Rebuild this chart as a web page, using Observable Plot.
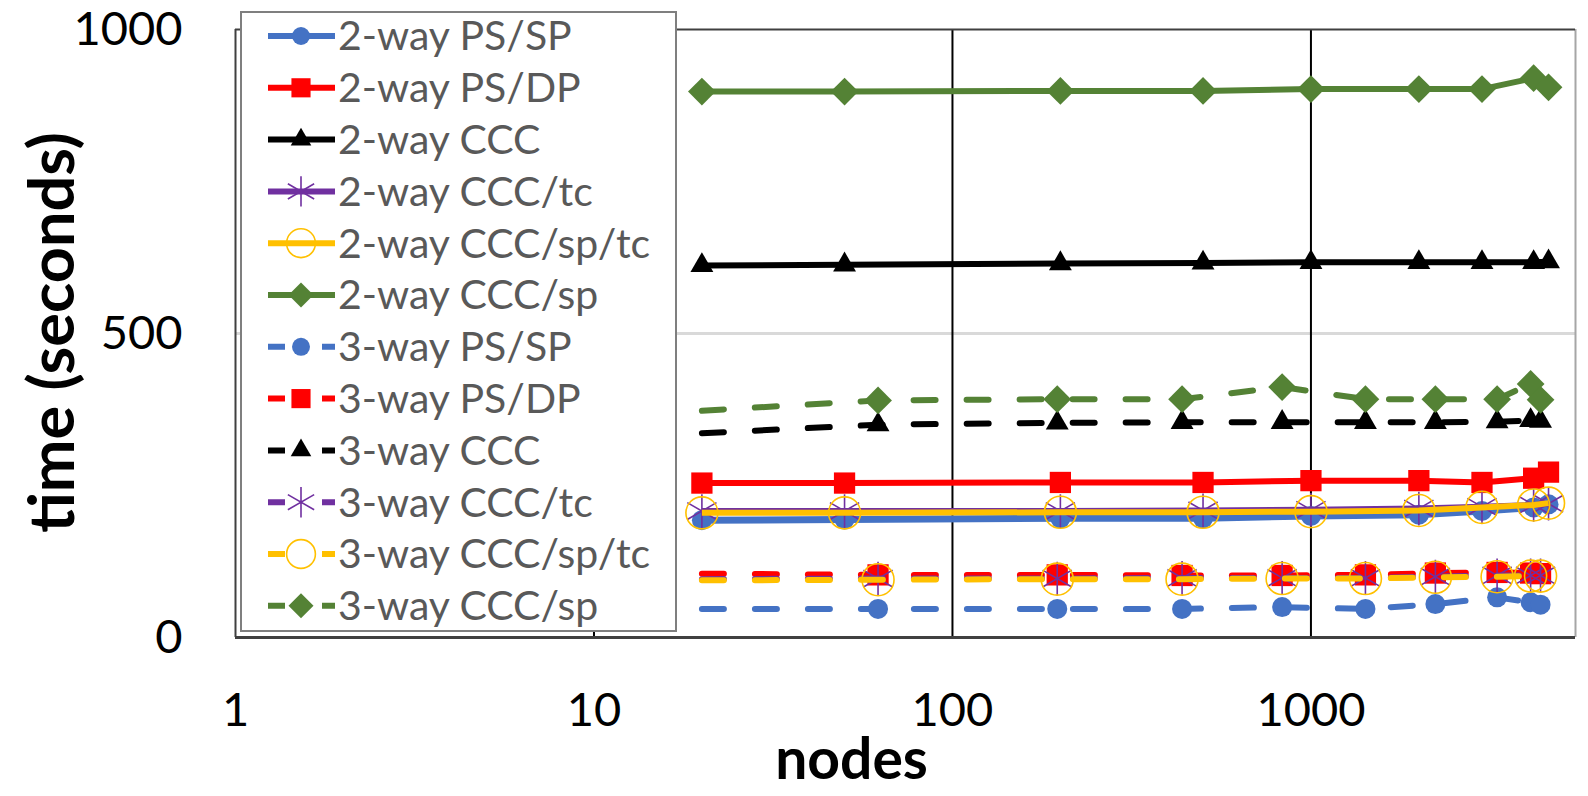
<!DOCTYPE html>
<html><head><meta charset="utf-8">
<script src="https://cdn.jsdelivr.net/npm/d3@7"></script>
<script src="https://cdn.jsdelivr.net/npm/@observablehq/plot@0.6"></script>
<style>
html,body{margin:0;padding:0;background:#fff;}
#wrap{position:relative;width:1588px;height:796px;font-family:Lato,"Open Sans",sans-serif;}
#legend{position:absolute;left:240px;top:11px;}
</style></head><body><div id="wrap"></div>
<script>
// ---- data ----
const kinds = ["PS/SP", "PS/DP", "CCC", "CCC/tc", "CCC/sp/tc", "CCC/sp"];
const colors = ["#4472C4", "#FF0000", "#000000", "#7030A0", "#FFC000", "#548235"];
const xTicks = [1, 10, 100, 1000];
const yTicks = [0, 500, 1000];
const xMax = 5470;

const nodes2 = [20, 50, 200, 500, 1000, 2000, 3000, 4180, 4600];
const twoPSSP   = [193, 194, 196, 196, 200, 202, 208, 214, 219];
const twoPSDP   = [254, 254, 255, 255, 258, 258, 255, 262, 272];
const twoCCC    = [612, 613, 615, 616, 617, 617, 617, 617, 618];
const twoCCCtc  = [208, 208, 208, 209, 210, 212, 215, 218, 220];
const twoCCCsptc= [205, 205, 206, 206, 207, 209, 214, 218, 221];
const twoCCCsp  = [898, 898, 899, 899, 902, 902, 902, 920, 905];

const nodes3 = [20, 62, 196, 437, 831, 1419, 2224, 3306, 4100, 4370];
const nodes3Marker = [0, 1, 1, 1, 1, 1, 1, 1, 1, 1];
const threePSSP   = [47, 47, 47, 47, 50, 47, 55, 66, 58, 54];
const threePSDP   = [105, 103, 103, 102, 102, 103, 106, 107, 106, 105];
const threeCCC    = [336, 350, 353, 354, 354, 354, 354, 355, 357, 356];
const threeCCCtc  = [96, 97, 97, 98, 98, 98, 100, 102, 102, 102];
const threeCCCsptc= [94, 95, 96, 96, 97, 97, 99, 100, 101, 101];
const threeCCCsp  = [373, 390, 392, 392, 412, 392, 392, 392, 417, 391];

const two = [twoPSSP, twoPSDP, twoCCC, twoCCCtc, twoCCCsptc, twoCCCsp];
const three = [threePSSP, threePSDP, threeCCC, threeCCCtc, threeCCCsptc, threeCCCsp];

// ---- build series ----
const series = [];
two.forEach((vals, k) => series.push({
  name: "2-way " + kinds[k], k, dashed: false,
  rows: vals.map((v, i) => ({x: nodes2[i], y: v, m: 1}))
}));
three.forEach((vals, k) => series.push({
  name: "3-way " + kinds[k], k, dashed: true,
  rows: vals.map((v, i) => ({x: nodes3[i], y: v, m: nodes3Marker[i]}))
}));

const markerStyle = [
  {symbol: "circle", r: 10, fill: true},
  {symbol: "square", r: 12, fill: true},
  {symbol: "triangle", r: 8.5, fill: true},
  {symbol: "asterisk", r: 16, fill: false, sw: 1.6},
  {symbol: "circle", r: 16, fill: false, sw: 1.6},
  {symbol: "diamond2", r: 12.5, fill: true}
];

function dotOpts(k) {
  const ms = markerStyle[k];
  const o = {x: "x", y: "y", symbol: ms.symbol, r: ms.r};
  if (ms.fill) { o.fill = colors[k]; o.stroke = "none"; }
  else { o.fill = "none"; o.stroke = colors[k]; o.strokeWidth = ms.sw; }
  return o;
}

const marks = [
  Plot.ruleY([500], {stroke: "#d9d9d9", strokeWidth: 3}),
  Plot.ruleX([10, 100, 1000], {stroke: "#000", strokeWidth: 2}),
  Plot.ruleX([xMax], {stroke: "#a6a6a6", strokeWidth: 2}),
  Plot.ruleY([1000], {stroke: "#404040", strokeWidth: 2}),
  Plot.ruleX([1], {stroke: "#404040", strokeWidth: 2}),
  Plot.ruleY([0], {stroke: "#404040", strokeWidth: 3})
];
for (const s of series) {
  marks.push(Plot.line(s.rows, {
    x: "x", y: "y", stroke: colors[s.k], strokeWidth: s.k === 0 && !s.dashed ? 7 : 6,
    strokeDasharray: s.dashed ? "22,31" : null,
    strokeLinecap: s.dashed ? "round" : "butt"
  }));
  marks.push(Plot.dot(s.rows.filter(d => d.m), dotOpts(s.k)));
}
marks.push(Plot.text(["nodes"], {text: d => d, frameAnchor: "bottom", textAnchor: "middle", lineAnchor: "middle",
  dx: -54, dy: 123, fontSize: 57, fontWeight: "bold", fill: "#000"}));
marks.push(Plot.text(["time (seconds)"], {text: d => d, frameAnchor: "left", textAnchor: "middle", lineAnchor: "middle",
  rotate: -90, dx: -182, dy: -1, fontSize: 63, fontWeight: "bold", fill: "#000"}));

const chart = Plot.plot({
  width: 1588, height: 796,
  marginLeft: 235, marginRight: 13, marginTop: 29, marginBottom: 159,
  style: {fontFamily: "Lato, 'Open Sans', sans-serif", fontSize: "47px", background: "#fff", color: "#000", overflow: "visible"},
  x: {type: "log", domain: [1, xMax], ticks: xTicks, tickFormat: d => String(d), tickSize: 0, tickPadding: 55, label: null},
  y: {domain: [0, 1000], ticks: yTicks, tickFormat: d => String(d), tickSize: 0, tickPadding: 53, label: null},
  marks
});
document.getElementById("wrap").appendChild(chart);

// ---- legend overlay ----
const LW = 437, LH = 621;
const lg = d3.select("#wrap").append("svg").attr("id", "legend")
  .attr("width", LW).attr("height", LH);
lg.append("rect").attr("x", 1).attr("y", 1).attr("width", LW - 2).attr("height", LH - 2)
  .attr("fill", "#fff").attr("stroke", "#7f7f7f").attr("stroke-width", 2);
const symMap = {circle: d3.symbolCircle, square: d3.symbolSquare, triangle: d3.symbolTriangle,
  asterisk: d3.symbolAsterisk, diamond2: d3.symbolDiamond2};
series.forEach((s, i) => {
  const cy = 25 + i * 51.8;
  const g = lg.append("g").attr("transform", `translate(0,${cy})`);
  g.append("line").attr("x1", 28).attr("x2", 95).attr("y1", 0).attr("y2", 0)
    .attr("stroke", colors[s.k]).attr("stroke-width", 6)
    .attr("stroke-dasharray", s.dashed ? "17,37,13" : null);
  const ms = markerStyle[s.k];
  const r = ms.r * 0.9;
  const p = g.append("path").attr("transform", "translate(61,0)")
    .attr("d", d3.symbol(symMap[ms.symbol], Math.PI * r * r)());
  if (ms.fill) p.attr("fill", colors[s.k]);
  else p.attr("fill", "none").attr("stroke", colors[s.k]).attr("stroke-width", ms.sw);
  g.append("text").attr("x", 98).attr("y", 0).attr("dy", "0.35em")
    .attr("font-size", 41).attr("fill", "#595959")
    .attr("font-family", "Lato, 'Open Sans', sans-serif").text(s.name);
});
</script></body></html>
